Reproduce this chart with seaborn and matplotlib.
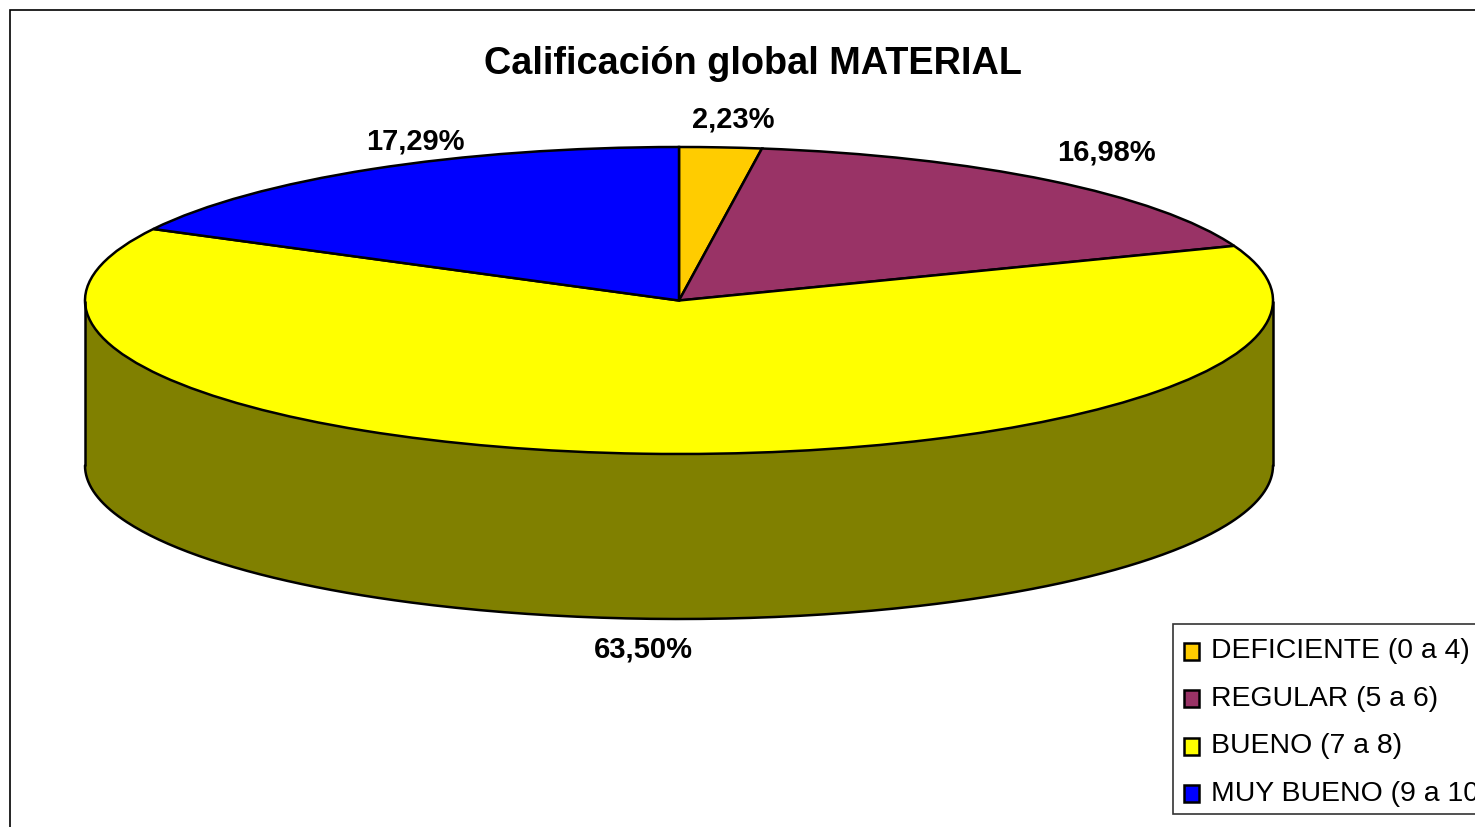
import numpy as np
import matplotlib
matplotlib.use("Agg")
import matplotlib.pyplot as plt
from matplotlib.patches import Rectangle
import seaborn as sns

categories = ["DEFICIENTE (0 a 4)", "REGULAR (5 a 6)", "BUENO (7 a 8)", "MUY BUENO (9 a 10)"]
values = [2.23, 16.98, 63.50, 17.29]
value_labels = ["2,23%", "16,98%", "63,50%", "17,29%"]
colors = ["#FFCC00", "#993366", "#FFFF00", "#0000FF"]
title = "Calificación global MATERIAL"

W, H = 1475, 828
sns.set_theme(style="white")
plt.rcParams["font.family"] = ["Liberation Sans", "DejaVu Sans"]

# pie geometry in pixels of the final image
cx, cy, rx, ry = 679, 301.5, 594, 153.5
depth = 165 / ry
line_w = 1.8

fig = plt.figure(figsize=(W / 100, H / 100), dpi=100, facecolor="white")
ax = fig.add_axes([0, 0, 1, 1])

# side wall, only the front half of the disc shows
t = np.linspace(0, np.pi, 300)
xs = np.cos(t)
ys = -np.sin(t)
ax.fill_between(xs, ys, ys - depth, color="#808000", edgecolor="none")
ax.plot(xs, ys - depth, color="black", lw=line_w)
ax.plot([-1, -1], [0, -depth], color="black", lw=line_w, solid_capstyle="butt")
ax.plot([1, 1], [0, -depth], color="black", lw=line_w, solid_capstyle="butt")

wedges, _ = ax.pie(values, colors=sns.color_palette(colors), startangle=90, counterclock=False,
                   radius=1, wedgeprops={"edgecolor": "black", "linewidth": line_w})

# squash the disc: pie forces equal aspect so undo it
ax.set_aspect("auto")
ax.set_xlim(-cx / rx, (W - cx) / rx)
ax.set_ylim((cy - H) / ry, cy / ry)
ax.axis("off")

# outer frame runs off the right and bottom of the image
fig.add_artist(Rectangle((10 / W, -0.05), 1.1, 1.05 - 10.5 / H, transform=fig.transFigure,
                         fill=False, edgecolor="black", linewidth=1.2))

fig.text(753 / W, 1 - 63.5 / H, title, ha="center", va="center", fontsize=27.3, fontweight="bold", color="black")

label_pos = [(733, 120), (1106, 153), (643, 649), (415, 141)]
for (px, py), lab in zip(label_pos, value_labels):
    fig.text(px / W, 1 - py / H, lab, ha="center", va="center", fontsize=21, fontweight="bold", color="black")

# legend box drawn by hand, the automatic one comes out too tall at the bottom
fig.add_artist(Rectangle((1173 / W, 1 - 815 / H), 0.3, 190 / H, transform=fig.transFigure,
                         facecolor="white", edgecolor="#333333", linewidth=1.2))
leg = fig.legend(wedges, categories, loc="upper left", bbox_to_anchor=(1172 / W, 1 - 625 / H),
                 fontsize=20.4, frameon=False,
                 handlelength=0.55, handleheight=0.55, handletextpad=0.36, labelspacing=0.76,
                 borderpad=0.46, borderaxespad=0, labelcolor="black")
# swatches sit a little lower and further left than the default
for p in leg.get_patches():
    p.set_y(p.get_y() - 3)
    p.set_x(p.get_x() - 1)
    p.set_linewidth(line_w)

fig.savefig("out.png", dpi=100)
